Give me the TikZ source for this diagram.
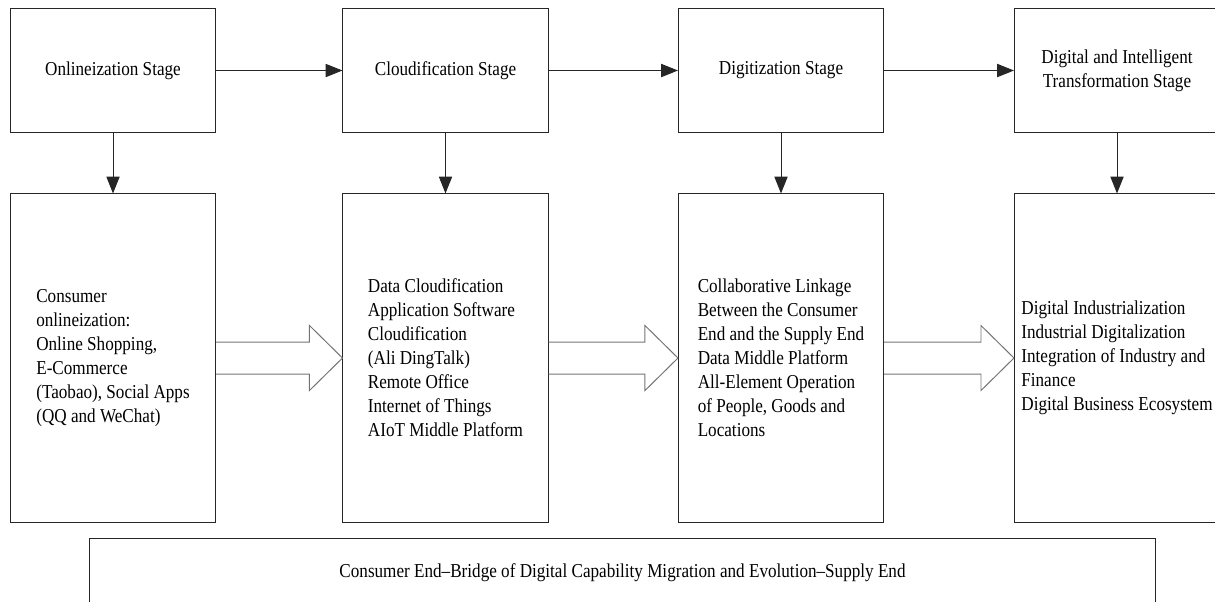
\documentclass[tikz,border=0pt]{standalone}
\usepackage{fontspec}
\setmainfont{Liberation Serif}[FakeStretch=0.87]
\usepackage{tikz}
\usetikzlibrary{calc,arrows.meta}

\begin{document}
\begin{tikzpicture}[x=0.025cm, y=-0.025cm]
    % Styles for boxes and lines
    \tikzstyle{stagebox} = [rectangle, draw=black!85, line width=0.7pt, align=center, minimum width=5.125cm, minimum height=3.075cm, inner sep=2pt, font=\fontsize{14pt}{17.1pt}\selectfont]
    \tikzstyle{detailbox} = [stagebox, align=left, minimum height=8.2cm]
    \tikzstyle{arrow} = [line width=0.7pt, draw=black!85, -{Triangle[length=0.42cm, width=0.33cm]}]
    \tikzstyle{fatarrow} = [line width=0.7pt, draw=black!55]

    \useasboundingbox (0,0) rectangle (1215,601);

  % Stage boxes
    \node[stagebox] (online) at (113,70.5) {Onlineization Stage};
    \node[stagebox] (cloud) at (445.5,70.5) {Cloudification Stage};
    \node[stagebox] (digit) at (781,70.5) {Digitization Stage};
    \node[stagebox] (intel) at (1117,70.5) {Digital and Intelligent\\Transformation Stage};

  % Detail boxes
    \node[detailbox] (onlinedet) at (113,358) {Consumer\\onlineization:\\Online Shopping,\\E-Commerce\\(Taobao), Social Apps\\(QQ and WeChat)};
    \node[detailbox] (clouddet) at (445.5,358) {Data Cloudification\\Application Software\\Cloudification\\(Ali DingTalk)\\Remote Office\\Internet of Things\\AIoT Middle Platform};
    \node[detailbox] (digitdet) at (781,358) {Collaborative Linkage\\Between the Consumer\\End and the Supply End\\Data Middle Platform\\All-Element Operation\\of People, Goods and\\Locations};
    \node[detailbox] (inteldet) at (1117,358) {Digital Industrialization\\Industrial Digitalization\\Integration of Industry and\\Finance\\Digital Business Ecosystem};

  % Bridge box
    \node[stagebox, minimum width=26.625cm, minimum height=1.75cm] (bridge) at (622.5,573) {Consumer End--Bridge of Digital Capability Migration and Evolution--Supply End};

  % Arrows between stages
    \draw[arrow] (online) -- (cloud);
    \draw[arrow] (cloud) -- (digit);
    \draw[arrow] (digit) -- (intel);
    \draw[arrow] (online) -- (onlinedet);
    \draw[arrow] (cloud) -- (clouddet);
    \draw[arrow] (digit) -- (digitdet);
    \draw[arrow] (intel) -- (inteldet);

  % Hollow arrows between detail boxes
    \draw[fatarrow] ($(onlinedet.east)+(0,-16)$) -- ($(clouddet.west)+(-33,-16)$) -- ($(clouddet.west)+(-33,-32.5)$) -- (clouddet.west) -- ($(clouddet.west)+(-33,32.5)$) -- ($(clouddet.west)+(-33,16)$) -- ($(onlinedet.east)+(0,16)$);
    \draw[fatarrow] ($(clouddet.east)+(0,-16)$) -- ($(digitdet.west)+(-33,-16)$) -- ($(digitdet.west)+(-33,-32.5)$) -- (digitdet.west) -- ($(digitdet.west)+(-33,32.5)$) -- ($(digitdet.west)+(-33,16)$) -- ($(clouddet.east)+(0,16)$);
    \draw[fatarrow] ($(digitdet.east)+(0,-16)$) -- ($(inteldet.west)+(-33,-16)$) -- ($(inteldet.west)+(-33,-32.5)$) -- (inteldet.west) -- ($(inteldet.west)+(-33,32.5)$) -- ($(inteldet.west)+(-33,16)$) -- ($(digitdet.east)+(0,16)$);

\end{tikzpicture}
\end{document}
